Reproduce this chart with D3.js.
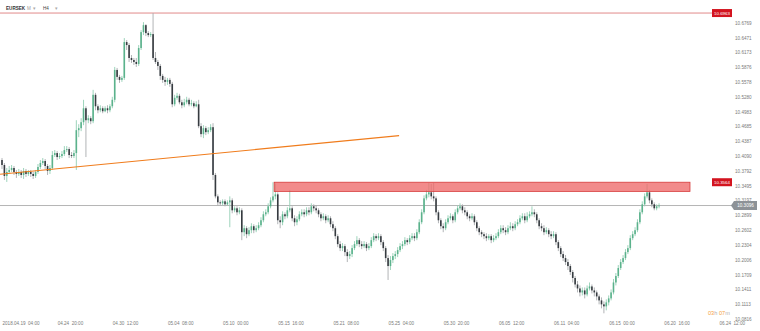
<!DOCTYPE html>
<html>
<head>
<meta charset="utf-8">
<script src="https://cdn.jsdelivr.net/npm/d3@7"></script>
<style>
  body { margin: 0; background: #fff; }
  svg { display: block; font-family: "Liberation Sans", Arial, sans-serif; }
</style>
</head>
<body>
<div id="chart"></div>
<script>
// EURSEK H4 candles, 2018.04.19 04:00 onwards (open = previous close)
var firstOpen = 10.401;
var closes = [
  10.391,10.369,10.377,10.381,10.385,10.377,10.373,10.377,10.371,10.379,
  10.373,10.377,10.373,10.369,10.377,10.387,10.395,10.399,10.389,10.379,
  10.385,10.411,10.415,10.407,10.409,10.413,10.421,10.423,10.411,10.409,
  10.415,10.461,10.465,10.477,10.505,10.481,10.485,10.479,10.532,10.509,
  10.501,10.505,10.499,10.505,10.501,10.509,10.522,10.582,10.568,10.562,
  10.566,10.638,10.632,10.606,10.602,10.598,10.594,10.626,10.658,10.672,
  10.656,10.652,10.654,10.606,10.598,10.590,10.570,10.562,10.558,10.562,
  10.554,10.513,10.526,10.530,10.517,10.511,10.517,10.522,10.513,10.515,
  10.509,10.513,10.469,10.453,10.465,10.457,10.461,10.467,10.371,10.328,
  10.316,10.314,10.318,10.312,10.316,10.320,10.300,10.304,10.296,10.300,
  10.256,10.264,10.252,10.260,10.268,10.260,10.264,10.270,10.280,10.292,
  10.296,10.308,10.320,10.328,10.332,10.280,10.276,10.292,10.288,10.300,
  10.304,10.284,10.276,10.282,10.292,10.296,10.292,10.300,10.296,10.308,
  10.304,10.300,10.292,10.284,10.288,10.280,10.284,10.272,10.264,10.248,
  10.232,10.224,10.228,10.216,10.208,10.212,10.224,10.232,10.240,10.232,
  10.228,10.232,10.224,10.228,10.240,10.248,10.244,10.248,10.236,10.224,
  10.204,10.188,10.200,10.208,10.212,10.220,10.228,10.232,10.240,10.236,
  10.244,10.248,10.244,10.256,10.276,10.296,10.324,10.332,10.336,10.328,
  10.324,10.296,10.280,10.268,10.264,10.276,10.284,10.288,10.280,10.296,
  10.304,10.308,10.300,10.296,10.288,10.284,10.288,10.276,10.264,10.256,
  10.252,10.248,10.244,10.248,10.240,10.244,10.248,10.256,10.264,10.260,
  10.256,10.264,10.268,10.264,10.272,10.276,10.284,10.288,10.280,10.288,
  10.292,10.296,10.292,10.280,10.268,10.264,10.256,10.260,10.252,10.248,
  10.252,10.236,10.224,10.212,10.204,10.196,10.188,10.176,10.164,10.151,
  10.143,10.135,10.139,10.131,10.143,10.147,10.139,10.135,10.127,10.119,
  10.111,10.107,10.115,10.123,10.135,10.155,10.168,10.184,10.196,10.204,
  10.216,10.224,10.244,10.252,10.260,10.276,10.296,10.312,10.328,10.336,
  10.320,10.312,10.304,10.308,10.3096];
var highs = [
  10.405,10.395,10.385,10.389,10.391,10.389,10.381,10.383,10.381,10.385,
  10.383,10.381,10.381,10.377,10.381,10.393,10.401,10.405,10.403,10.393,
  10.391,10.419,10.421,10.419,10.415,10.419,10.429,10.429,10.427,10.417,
  10.421,10.481,10.473,10.485,10.522,10.509,10.491,10.489,10.542,10.536,
  10.513,10.511,10.509,10.509,10.511,10.513,10.528,10.588,10.586,10.572,
  10.570,10.646,10.642,10.636,10.612,10.606,10.606,10.632,10.662,10.678,
  10.674,10.660,10.658,10.6963,10.618,10.602,10.594,10.574,10.568,10.566,
  10.566,10.558,10.532,10.536,10.534,10.522,10.524,10.528,10.526,10.522,
  10.519,10.519,10.522,10.475,10.471,10.469,10.467,10.473,10.475,10.375,
  10.332,10.320,10.322,10.322,10.320,10.328,10.324,10.308,10.308,10.306,
  10.304,10.270,10.268,10.266,10.274,10.272,10.270,10.276,10.286,10.298,
  10.302,10.314,10.326,10.3564,10.354,10.336,10.288,10.298,10.296,10.306,
  10.341,10.308,10.290,10.288,10.298,10.302,10.302,10.306,10.306,10.314,
  10.312,10.310,10.304,10.296,10.294,10.292,10.290,10.288,10.278,10.268,
  10.252,10.238,10.234,10.232,10.222,10.218,10.230,10.238,10.248,10.244,
  10.238,10.238,10.236,10.234,10.246,10.254,10.252,10.254,10.252,10.240,
  10.228,10.210,10.208,10.214,10.218,10.226,10.234,10.238,10.246,10.244,
  10.250,10.254,10.254,10.262,10.282,10.302,10.330,10.341,10.355,10.353,
  10.355,10.328,10.300,10.284,10.274,10.282,10.290,10.294,10.292,10.302,
  10.310,10.314,10.312,10.306,10.300,10.292,10.294,10.292,10.280,10.268,
  10.260,10.256,10.254,10.252,10.252,10.250,10.254,10.262,10.270,10.270,
  10.266,10.270,10.276,10.274,10.278,10.282,10.290,10.294,10.294,10.296,
  10.298,10.308,10.302,10.296,10.284,10.274,10.270,10.266,10.264,10.258,
  10.258,10.256,10.240,10.228,10.218,10.210,10.202,10.192,10.180,10.168,
  10.158,10.149,10.145,10.145,10.149,10.155,10.151,10.145,10.139,10.131,
  10.125,10.117,10.121,10.129,10.141,10.162,10.174,10.190,10.202,10.210,
  10.222,10.230,10.250,10.258,10.266,10.282,10.302,10.318,10.334,10.353,
  10.341,10.324,10.316,10.312,10.314];
var lows = [
  10.383,10.361,10.357,10.373,10.377,10.371,10.365,10.369,10.365,10.363,
  10.367,10.369,10.367,10.363,10.365,10.373,10.383,10.391,10.383,10.371,
  10.373,10.381,10.407,10.401,10.403,10.405,10.409,10.417,10.405,10.405,
  10.405,10.381,10.447,10.459,10.471,10.407,10.475,10.473,10.475,10.501,
  10.495,10.497,10.495,10.497,10.495,10.497,10.505,10.517,10.562,10.556,
  10.558,10.562,10.622,10.598,10.596,10.592,10.588,10.590,10.622,10.652,
  10.650,10.648,10.648,10.602,10.594,10.582,10.562,10.556,10.550,10.552,
  10.548,10.507,10.509,10.522,10.513,10.505,10.507,10.513,10.509,10.509,
  10.505,10.507,10.465,10.447,10.445,10.451,10.453,10.457,10.361,10.324,
  10.310,10.310,10.310,10.308,10.310,10.266,10.294,10.296,10.290,10.292,
  10.240,10.248,10.244,10.248,10.254,10.254,10.256,10.260,10.266,10.276,
  10.288,10.292,10.304,10.316,10.322,10.272,10.264,10.270,10.282,10.284,
  10.296,10.278,10.268,10.270,10.278,10.288,10.286,10.288,10.290,10.292,
  10.298,10.294,10.286,10.278,10.280,10.274,10.276,10.266,10.258,10.242,
  10.226,10.218,10.218,10.208,10.196,10.202,10.206,10.220,10.228,10.226,
  10.222,10.224,10.218,10.220,10.224,10.236,10.238,10.240,10.230,10.218,
  10.196,10.160,10.180,10.194,10.202,10.206,10.216,10.222,10.228,10.230,
  10.232,10.240,10.238,10.240,10.252,10.272,10.292,10.320,10.326,10.322,
  10.318,10.290,10.274,10.262,10.256,10.260,10.272,10.280,10.274,10.276,
  10.292,10.300,10.294,10.290,10.282,10.278,10.280,10.270,10.258,10.250,
  10.246,10.242,10.238,10.240,10.234,10.236,10.240,10.244,10.252,10.254,
  10.250,10.252,10.260,10.258,10.260,10.268,10.272,10.280,10.274,10.276,
  10.284,10.288,10.286,10.274,10.262,10.258,10.250,10.252,10.246,10.242,
  10.244,10.230,10.218,10.206,10.198,10.190,10.180,10.170,10.155,10.145,
  10.135,10.127,10.129,10.123,10.127,10.139,10.133,10.127,10.119,10.111,
  10.103,10.093,10.099,10.109,10.119,10.131,10.149,10.164,10.180,10.192,
  10.200,10.212,10.220,10.240,10.248,10.256,10.272,10.292,10.308,10.324,
  10.314,10.306,10.300,10.300,10.304];

// axis labels
var priceTicks = [10.6769,10.6471,10.6173,10.5876,10.5578,10.5280,10.4983,10.4685,10.4387,10.4090,
                  10.3792,10.3495,10.3197,10.2899,10.2602,10.2304,10.2006,10.1709,10.1411,10.1113,10.0816];
var timeLabels = ["2018.04.19  04:00","04.24  20:00","04.30  12:00","05.04  08:00","05.10  00:00",
                  "05.15  16:00","05.21  08:00","05.25  04:00","05.30  20:00","06.05  12:00",
                  "06.11  04:00","06.15  00:00","06.20  16:00","06.24  12:00"];
var timeIdx = [0,23,46,69,92,115,138,161,184,207,230,253,276,299];

// drawn objects
var topLevel = 10.6963;
var lastPrice = 10.3096;
var zoneTop = 10.3564, zoneBottom = 10.3380, zoneFrom = 113.5, zoneTo = 286.9;
var trendIdx = [-0.8, 165.6];
var trendPrice = [10.3725, 10.4500];
var countdown = ["03", "h ", "07", "m"];

var width = 760, height = 331;
var svg = d3.select("#chart").append("svg")
            .attr("width", width)
            .attr("height", height);

var x = d3.scaleLinear().domain([0, 299]).range([2, 719]);
var y = d3.scaleLinear().domain([10.0816, 10.6769]).range([319, 22.7]);

var candles = closes.map(function(c, i) {
  return { i: i, o: i == 0 ? firstOpen : closes[i - 1], c: c, h: highs[i], l: lows[i] };
});

// header
var head = svg.append("g").style("font-size", "4.6px");
head.append("text").attr("x", 6).attr("y", 10).attr("fill", "#333").style("font-weight", "bold").text("EURSEK");
head.append("text").attr("x", 27).attr("y", 10).attr("fill", "#999").text("M");
head.append("text").attr("x", 33).attr("y", 10).attr("fill", "#aaa").text("▾");
head.append("text").attr("x", 43).attr("y", 10).attr("fill", "#444").text("H4");
head.append("text").attr("x", 55).attr("y", 10).attr("fill", "#aaa").text("▾");

// top price line
svg.append("line")
   .attr("x1", 0).attr("x2", 712)
   .attr("y1", y(topLevel)).attr("y2", y(topLevel))
   .attr("stroke", "#e28a8a").attr("stroke-width", 1);

// last price line
svg.append("line")
   .attr("x1", 0).attr("x2", 732)
   .attr("y1", y(lastPrice)).attr("y2", y(lastPrice))
   .attr("stroke", "#b5b5b5").attr("stroke-width", 1);

// candles
var cg = svg.append("g");
cg.selectAll("line.wick")
  .data(candles)
  .enter().append("line")
  .attr("class", "wick")
  .attr("x1", function(d) { return x(d.i); })
  .attr("x2", function(d) { return x(d.i); })
  .attr("y1", function(d) { return y(d.h); })
  .attr("y2", function(d) { return y(d.l); })
  .attr("stroke", function(d) { return d.c >= d.o ? "#93cfb4" : "#a9acaf"; })
  .attr("stroke-width", 0.9);

cg.selectAll("rect.body")
  .data(candles)
  .enter().append("rect")
  .attr("class", "body")
  .attr("x", function(d) { return x(d.i) - 0.8; })
  .attr("width", 1.6)
  .attr("y", function(d) { return y(Math.max(d.o, d.c)); })
  .attr("height", function(d) { return Math.max(0.8, Math.abs(y(d.o) - y(d.c))); })
  .attr("fill", function(d) { return d.c >= d.o ? "#5bb28c" : "#363b40"; });

// resistance zone
svg.append("rect")
   .attr("x", x(zoneFrom))
   .attr("y", y(zoneTop))
   .attr("width", x(zoneTo) - x(zoneFrom))
   .attr("height", y(zoneBottom) - y(zoneTop))
   .attr("fill", "#ee6a6a")
   .attr("fill-opacity", 0.78)
   .attr("stroke", "#d63a3a")
   .attr("stroke-width", 0.8);

// trend line
svg.append("line")
   .attr("x1", x(trendIdx[0])).attr("y1", y(trendPrice[0]))
   .attr("x2", x(trendIdx[1])).attr("y2", y(trendPrice[1]))
   .attr("stroke", "#f07c1c").attr("stroke-width", 1.1);

// price axis
var yAxis = svg.append("g")
   .attr("transform", "translate(733,0)")
   .call(d3.axisRight(y).tickValues(priceTicks).tickSize(0).tickPadding(2)
           .tickFormat(d3.format(".4f")));
yAxis.select(".domain").remove();
yAxis.selectAll("text").style("font-size", "4.6px").attr("fill", "#7a7a7a")
     .style("font-family", "\"Liberation Sans\", Arial, sans-serif");

// time axis
var xAxis = svg.append("g")
   .attr("transform", "translate(0,320)")
   .call(d3.axisBottom(x).tickValues(timeIdx).tickSize(0).tickPadding(2)
           .tickFormat(function(d, k) { return timeLabels[k]; }));
xAxis.select(".domain").remove();
xAxis.selectAll("text").style("font-size", "4.6px").attr("fill", "#7a7a7a")
     .style("white-space", "pre")
     .style("font-family", "\"Liberation Sans\", Arial, sans-serif")
     .attr("text-anchor", "start");

// price tags
function redTag(p) {
  var cy = y(p);
  svg.append("rect").attr("x", 712).attr("y", cy - 4).attr("width", 20).attr("height", 8)
     .attr("fill", "#d3141f");
  svg.append("text").attr("x", 722).attr("y", cy).attr("dy", "0.35em")
     .attr("text-anchor", "middle").attr("fill", "#fff").style("font-size", "4.4px")
     .text(d3.format(".4f")(p));
}
redTag(topLevel);
redTag(zoneTop);

var ly = y(lastPrice);
svg.append("path")
   .attr("d", "M731," + ly + "L734," + (ly - 4.5) + "H757V" + (ly + 4.5) + "H734Z")
   .attr("fill", "#8d9297");
svg.append("text").attr("x", 745.5).attr("y", ly).attr("dy", "0.35em")
   .attr("text-anchor", "middle").attr("fill", "#fff").style("font-size", "4.6px")
   .text(d3.format(".4f")(lastPrice));

// bar countdown
var cd = svg.append("text").attr("x", 708).attr("y", 314.5).style("font-size", "5.6px");
cd.selectAll("tspan")
  .data(countdown)
  .enter().append("tspan")
  .attr("fill", function(d, k) { return k % 2 == 0 ? "#f5a340" : "#b0b0b0"; })
  .style("white-space", "pre")
  .text(function(d) { return d; });
</script>
</body>
</html>
